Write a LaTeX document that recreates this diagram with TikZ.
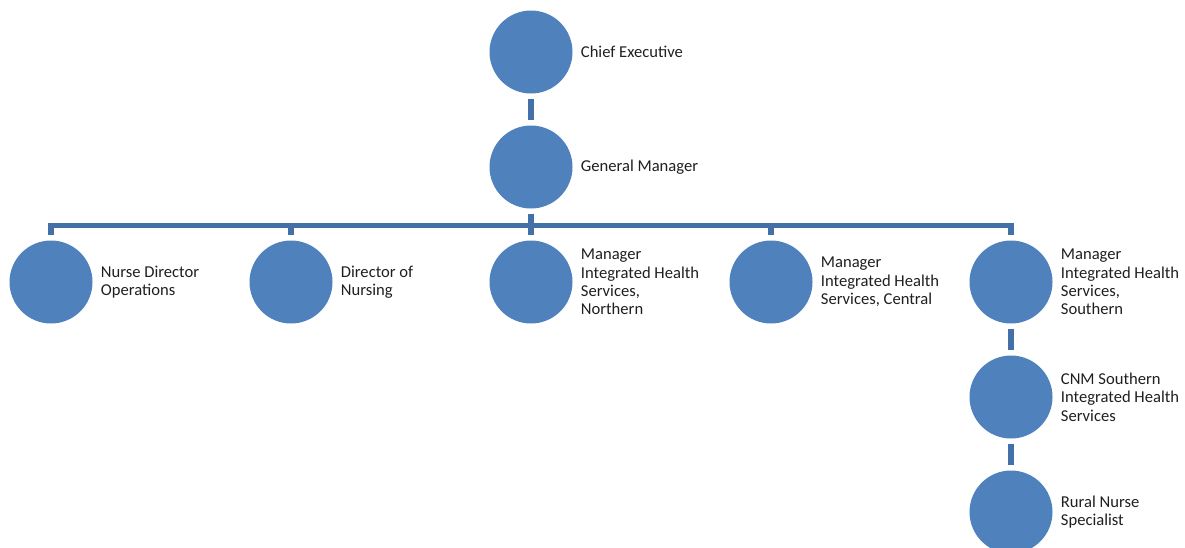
\documentclass[tikz,border=0pt]{standalone}
\usepackage{fontspec}
\setmainfont{Carlito}
\usetikzlibrary{positioning}
\definecolor{cblue}{HTML}{4F81BD}
\definecolor{cline}{HTML}{4370A6}
\definecolor{ctext}{HTML}{1F1F1F}

\begin{document}
\begin{tikzpicture}[node distance=115pt]
\tikzstyle{vc}=[circle,fill=cblue,minimum size=83pt,inner sep=0pt]
\tikzstyle{lb}=[align=left,inner sep=0pt,text=ctext,font=\fontsize{16.6}{18.3}\selectfont]
\tikzstyle{ln}=[draw=cline,line width=5.5pt,shorten <=5pt,shorten >=5pt]
\useasboundingbox (0,0) rectangle (1185pt,-547pt);

\node [vc] (ce) at (531pt,-52pt) {};
\node [vc,below of=ce] (gm) {};
\node [vc,below of=gm] (mn) {};
\node [vc,left of=mn,node distance=240pt] (dn) {};
\node [vc,left of=dn,node distance=240pt] (nd) {};
\node [vc,right of=mn,node distance=240pt] (mc) {};
\node [vc,right of=mc,node distance=240pt] (ms) {};
\node [vc,below of=ms] (cnm) {};
\node [vc,below of=cnm] (rns) {};

\node [lb,right=8pt of ce] (ce-t) {Chief Executive};
\node [lb,right=8pt of gm] (gm-t) {General Manager};
\node [lb,right=8pt of nd] (nd-t) {Nurse Director\\Operations};
\node [lb,right=8pt of dn] (dn-t) {Director of\\Nursing};
\node [lb,right=8pt of mn] (mn-t) {Manager\\Integrated Health\\Services,\\Northern};
\node [lb,right=8pt of mc] (mc-t) {Manager\\Integrated Health\\Services, Central};
\node [lb,right=8pt of ms] (ms-t) {Manager\\Integrated Health\\Services,\\Southern};
\node [lb,right=8pt of cnm] (cnm-t) {CNM Southern\\Integrated Health\\Services};
\node [lb,right=8pt of rns] (rns-t) {Rural Nurse\\Specialist};

\draw [ln] (ce) -- (gm);
\draw [ln] (gm.south) -- ++(0,-17pt) -| (nd.north);
\draw [ln] (gm.south) -- ++(0,-17pt) -| (dn.north);
\draw [ln] (gm.south) -- ++(0,-17pt) -| (mn.north);
\draw [ln] (gm.south) -- ++(0,-17pt) -| (mc.north);
\draw [ln] (gm.south) -- ++(0,-17pt) -| (ms.north);
\draw [ln] (ms) -- (cnm);
\draw [ln] (cnm) -- (rns);
\end{tikzpicture}
\end{document}
